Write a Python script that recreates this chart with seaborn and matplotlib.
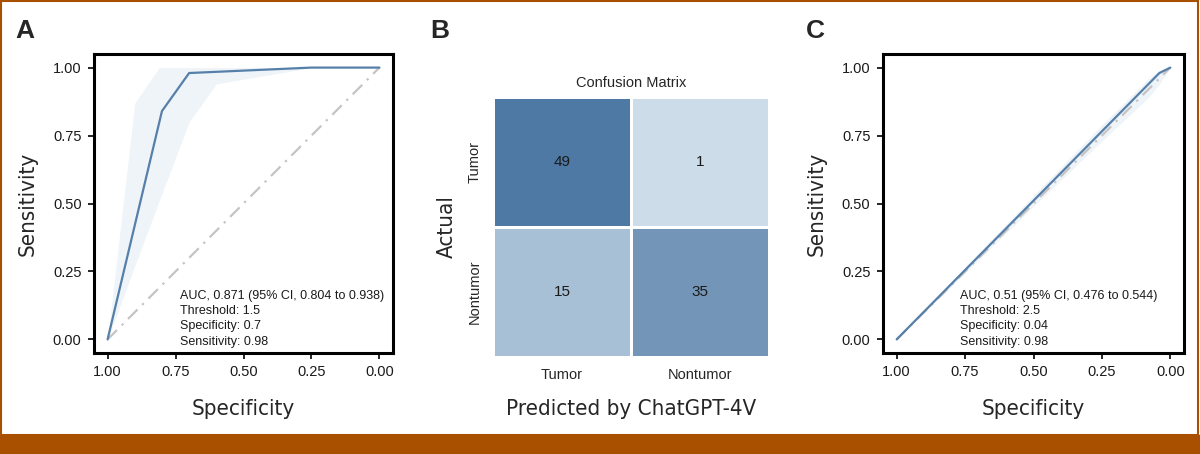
import numpy as np
import pandas as pd
import matplotlib
matplotlib.use("Agg")
import matplotlib.pyplot as plt
import seaborn as sns
from matplotlib import font_manager as fm
from matplotlib.colors import LinearSegmentedColormap
from matplotlib.patches import Rectangle

# ROC curve A (ChatGPT-4V)
spec_a = [1.0, 0.8, 0.7, 0.25, 0.0]
sens_a = [0.0, 0.84, 0.98, 1.0, 1.0]
# 95% CI band for A
band_a_spec = [1.0, 0.9, 0.81, 0.7, 0.6, 0.25, 0.0]
band_a_low = [0.0, 0.27, 0.51, 0.80, 0.94, 1.0, 1.0]
band_a_high = [0.0, 0.87, 1.0, 1.0, 1.0, 1.0, 1.0]

# ROC curve C
spec_c = [1.0, 0.04, 0.0]
sens_c = [0.0, 0.98, 1.0]
band_c_spec = [1.0, 0.5, 0.25, 0.08, 0.04, 0.0]
band_c_low = [0.0, 0.49, 0.73, 0.89, 0.94, 1.0]
band_c_high = [0.0, 0.53, 0.79, 0.96, 0.99, 1.0]

# confusion matrix B
labels = ["Tumor", "Nontumor"]
counts = [[49, 1], [15, 35]]

text_a = ["AUC, 0.871 (95% CI, 0.804 to 0.938)", "Threshold: 1.5",
          "Specificity: 0.7", "Sensitivity: 0.98"]
text_c = ["AUC, 0.51 (95% CI, 0.476 to 0.544)", "Threshold: 2.5",
          "Specificity: 0.04", "Sensitivity: 0.98"]

sns.set_style("white")
plt.rcParams["font.family"] = ["Liberation Sans", "DejaVu Sans"]

# condensed face for the axis titles if one is installed
has_cond = any(f.name == "DejaVu Sans" and "ondensed" in str(f.stretch) + f.fname
               for f in fm.fontManager.ttflist)
if has_cond:
    lab_kw = dict(family="DejaVu Sans", fontstretch="condensed", fontsize=16)
else:
    lab_kw = dict(family="Liberation Sans", fontsize=15.5)

line_col = "#5680A9"
band_col = "#EFF4F9"

fig = plt.figure(figsize=(12, 4.54), dpi=100)
ax_a = fig.add_axes([94 / 1200, 1 - 353 / 454, 299 / 1200, 299 / 454])
ax_b = fig.add_axes([493 / 1200, 1 - 357 / 454, 276 / 1200, 260 / 454])
ax_c = fig.add_axes([883 / 1200, 1 - 353 / 454, 301 / 1200, 299 / 454])


def roc_panel(ax, spec, sens, bs, bl, bh, lines, tx):
    ax.fill_between(bs, bl, bh, color=band_col, lw=0)
    ax.plot([1, 0], [0, 1], color="#C4C4C4", lw=1.6, ls=(0, (6, 3, 1, 3)))
    sns.lineplot(x=spec, y=sens, ax=ax, color=line_col, lw=1.6,
                 estimator=None, sort=True)
    ax.set_xlim(1.05, -0.05)
    ax.set_ylim(-0.05, 1.05)
    ticks = [1.0, 0.75, 0.5, 0.25, 0.0]
    ax.set_xticks(ticks)
    ax.set_xticklabels([f"{t:.2f}" for t in ticks])
    ax.set_yticks(ticks)
    ax.set_yticklabels([f"{t:.2f}" for t in ticks])
    ax.tick_params(axis="both", labelsize=10.5, length=4, width=1.2,
                   color="black", labelcolor="#1a1a1a", direction="out",
                   bottom=True, left=True, pad=5)
    for s in ax.spines.values():
        s.set_linewidth(2.2)
        s.set_color("black")
    ax.set_xlabel("Specificity", labelpad=14, **lab_kw)
    ax.set_ylabel("Sensitivity", labelpad=11, **lab_kw)
    for i, t in enumerate(lines):
        ax.text(tx, 0.16 - i * 0.056, t, fontsize=9, color="#1a1a1a",
                va="center", ha="left")


roc_panel(ax_a, spec_a, sens_a, band_a_spec, band_a_low, band_a_high, text_a, 0.735)
roc_panel(ax_c, spec_c, sens_c, band_c_spec, band_c_low, band_c_high, text_c, 0.77)

cmap = LinearSegmentedColormap.from_list("cm", ["#CCDDE9", "#4E79A4"])
df = pd.DataFrame(counts, index=labels, columns=labels)
sns.heatmap(df, ax=ax_b, cmap=cmap, annot=True, fmt="d", cbar=False,
            linewidths=2, linecolor="white",
            annot_kws={"fontsize": 11, "color": "#1a1a1a"})
ax_b.set_title("Confusion Matrix", fontsize=10.5, pad=7)
ax_b.set_xlabel("Predicted by ChatGPT-4V", labelpad=12, **lab_kw)
ax_b.set_ylabel("Actual", labelpad=8, **lab_kw)
ax_b.tick_params(axis="both", length=0, labelsize=10.5, pad=8)
ax_b.set_yticklabels(labels, rotation=90, va="center")

for x, lab in [(15, "A"), (430, "B"), (806, "C")]:
    fig.text(x / 1200, 1 - 31 / 454, lab, fontsize=19, fontweight="bold",
             va="center", ha="left")

# journal frame
orange = "#A94F00"
fig.patches.append(Rectangle((0, 0), 1, 19 / 454, transform=fig.transFigure,
                             color=orange, zorder=0))
fig.patches.append(Rectangle((0.001, 19 / 454), 0.997, 1 - 19 / 454 - 0.002,
                             transform=fig.transFigure, fill=False,
                             edgecolor=orange, lw=1.5, zorder=0))

fig.savefig("out.png", dpi=100, facecolor="white")
